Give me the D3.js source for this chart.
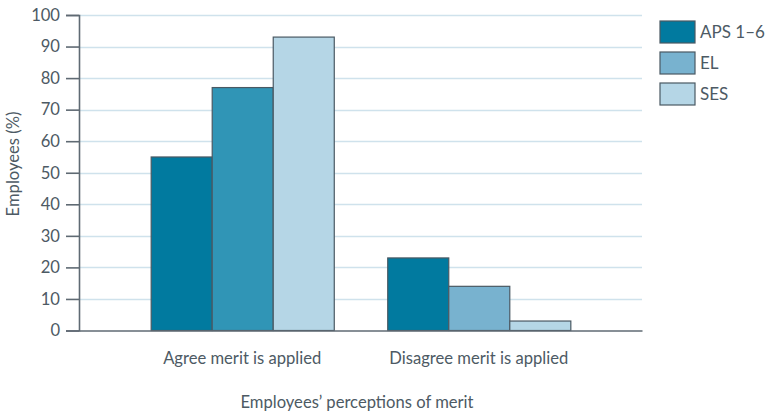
<!DOCTYPE html>
<html>
<head>
<meta charset="utf-8">
<script src="https://cdn.jsdelivr.net/npm/d3@7"></script>
<style>
  html, body { margin: 0; padding: 0; background: #fff; }
  svg { display: block; font-family: Lato, "Open Sans", sans-serif; }
</style>
</head>
<body>
<svg id="chart" width="766" height="412"></svg>
<script>
// Perceptions of merit by classification group
const categories = ["Agree merit is applied", "Disagree merit is applied"];
const seriesNames = ["APS 1–6", "EL", "SES"];
const apsValues = [55, 23];
const elValues = [77, 14];
const sesValues = [93, 3];
const yTicks = [0, 10, 20, 30, 40, 50, 60, 70, 80, 90, 100];
const seriesColors = ["#017a9f", "#78b2cf", "#b5d6e6"];
// the EL bar in the first group uses a deeper blue
const barColors = [
  ["#017a9f", "#3095b6", "#b5d6e6"],
  ["#017a9f", "#78b2cf", "#b5d6e6"]
];

const series = [apsValues, elValues, sesValues];
const svg = d3.select("#chart");
const margin = { left: 79, right: 124, top: 15, bottom: 81 };
const W = 766, H = 412;
const x0 = margin.left, x1 = W - margin.right;
const yTop = margin.top, yBot = H - margin.bottom - 0.5;

const textColor = "#4d5a64";
const axisColor = "#5f6a73";
const fontSize = "16.6px";

const x = d3.scaleBand().domain(categories).range([x0, x1])
  .paddingInner(0.226).paddingOuter(0.303);
const xs = d3.scaleBand().domain(d3.range(seriesNames.length)).range([0, x.bandwidth()]);
const y = d3.scaleLinear().domain([0, 100]).range([yBot, yTop]);

// gridlines
svg.append("g").selectAll("line").data(yTicks.filter(d => d > 0)).join("line")
  .attr("x1", x0).attr("x2", x1)
  .attr("y1", d => Math.round(y(d)) + 0.5).attr("y2", d => Math.round(y(d)) + 0.5)
  .attr("stroke", "#cfe2ec").attr("stroke-width", 1.3);

// bars
const groups = svg.append("g").selectAll("g").data(categories).join("g")
  .attr("transform", d => `translate(${x(d)},0)`);
groups.selectAll("rect").data((c, ci) => series.map((s, si) => ({ v: s[ci], si, ci })))
  .join("rect")
  .attr("x", d => xs(d.si) + 0.5)
  .attr("width", xs.bandwidth())
  .attr("y", d => y(d.v))
  .attr("height", d => yBot - y(d.v))
  .attr("fill", d => barColors[d.ci][d.si])
  .attr("stroke", "#4a5963").attr("stroke-width", 1.2);

// y axis
const yAxis = d3.axisLeft(y).tickValues(yTicks).tickSize(13).tickPadding(6);
const ya = svg.append("g").attr("transform", `translate(${x0},0)`).call(yAxis);
ya.select(".domain").attr("stroke", axisColor).attr("stroke-width", 1.6);
ya.selectAll(".tick line").attr("stroke", axisColor).attr("stroke-width", 1.6);
ya.selectAll(".tick text").attr("fill", textColor).style("font-size", fontSize)
  .style("font-family", "Lato, sans-serif");

// baseline and category labels
const xa = svg.append("g").attr("transform", `translate(0,${yBot})`)
  .call(d3.axisBottom(x).tickSize(0).tickPadding(22));
xa.select(".domain").attr("stroke", axisColor).attr("stroke-width", 1.6);
xa.selectAll(".tick text").attr("fill", textColor).style("font-size", fontSize)
  .style("font-family", "Lato, sans-serif");

// axis titles
svg.append("text").attr("x", 357).attr("y", 408)
  .attr("text-anchor", "middle").attr("fill", textColor).style("font-size", fontSize)
  .text("Employees’ perceptions of merit");
svg.append("text").attr("transform", "translate(19,164) rotate(-90)")
  .attr("text-anchor", "middle").attr("fill", textColor).style("font-size", fontSize)
  .text("Employees (%)");

// legend
const lg = svg.append("g").attr("transform", "translate(660,21)");
const items = lg.selectAll("g").data(seriesNames).join("g")
  .attr("transform", (d, i) => `translate(0,${i * 31})`);
items.append("rect").attr("width", 35).attr("height", 22)
  .attr("fill", (d, i) => seriesColors[i]).attr("stroke", "#4a5963").attr("stroke-width", 1.2);
items.append("text").attr("x", 40).attr("y", 17).attr("fill", textColor)
  .style("font-size", "17px").text(d => d);
</script>
</body>
</html>
